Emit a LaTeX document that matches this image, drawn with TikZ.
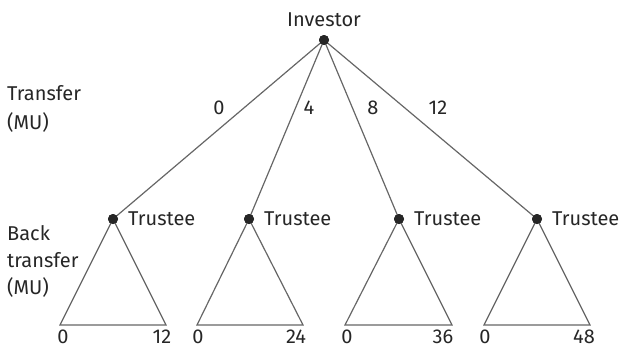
\documentclass[tikz,border=0pt]{standalone}
\usepackage{fontspec}
\setmainfont{Fira Sans}
\begin{document}
\begin{tikzpicture}[x=1pt,y=-1pt,
    txt/.style={font=\fontsize{20}{27}\selectfont, text=black!85, inner sep=0pt},
    dot/.style={circle, fill=black!85, inner sep=0pt, minimum size=10pt},
    edge/.style={draw=black!60, line width=1.2pt}]
    \useasboundingbox (0,0) rectangle (620,348);
    % players
    \node[dot] (inv) at (324,40) {};
    \node[txt] (invlab) at (324,20) {Investor};
    \node[dot] (t1) at (113,219) {};
    \node[dot] (t2) at (249,219) {};
    \node[dot] (t3) at (399,219) {};
    \node[dot] (t4) at (537,219) {};
    \foreach \t in {1,...,4}
        \node[txt, anchor=west] (tlab\t) at ([xshift=15pt]t\t.center) {Trustee};
    % leaves
    \coordinate (l1) at (60,325);  \coordinate (r1) at (166,325);
    \coordinate (l2) at (197,325); \coordinate (r2) at (303,325);
    \coordinate (l3) at (345,325); \coordinate (r3) at (452,325);
    \coordinate (l4) at (484,325); \coordinate (r4) at (590,325);
    \foreach \t in {1,...,4} {
        \draw[edge] (inv.center) -- (t\t.center);
        \draw[edge] (t\t.center) -- (l\t) -- (r\t) -- cycle;
    }
    \node[dot] at (inv) {};
    \foreach \t in {1,...,4} \node[dot] at (t\t) {};
    % transfer labels
    \node[txt] (s0) at (219,108) {0};
    \node[txt] (s4) at (309,108) {4};
    \node[txt] (s8) at (373,108) {8};
    \node[txt] (s12) at (438,108) {12};
    % back transfer labels
    \node[txt] (b1a) at (63,337) {0};
    \node[txt] (b1b) at (162,337) {12};
    \node[txt] (b2a) at (198,337) {0};
    \node[txt] (b2b) at (296,337) {24};
    \node[txt] (b3a) at (347,337) {0};
    \node[txt] (b3b) at (443,337) {36};
    \node[txt] (b4a) at (485,337) {0};
    \node[txt] (b4b) at (584,337) {48};
    % axis texts
    \node[txt, anchor=west] (tr) at (7,93) {Transfer};
    \node[txt, anchor=west] (trmu) at (7,122) {(MU)};
    \node[txt, anchor=west] (bk) at (7,233) {Back};
    \node[txt, anchor=west] (bktr) at (7,260) {transfer};
    \node[txt, anchor=west] (bkmu) at (7,287) {(MU)};
\end{tikzpicture}
\end{document}
